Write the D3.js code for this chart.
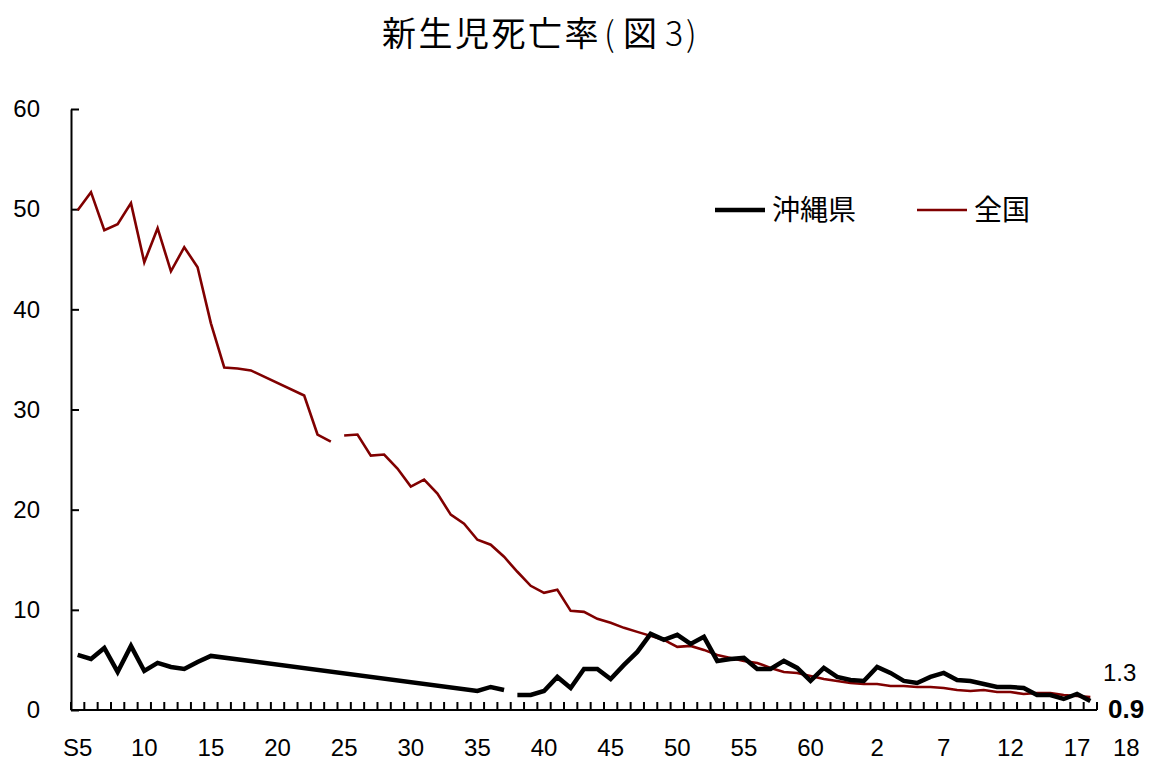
<!DOCTYPE html>
<html>
<head>
<meta charset="utf-8">
<script src="https://cdn.jsdelivr.net/npm/d3@7"></script>
<style>
  body { margin: 0; background: #fff; }
  svg { display: block; }
</style>
</head>
<body>
<div id="chart"></div>
<script>
// years S5 (1930) .. H18 (2006)
const years = d3.range(1930, 2007);

// 沖縄県 neonatal mortality, null = no data
const okinawa = [
  5.5, 5.1, 6.2, 3.8, 6.4, 3.9, 4.7, 4.3, 4.1, 4.8,
  5.4, null, null, null, null, null, null, null, null, null,
  null, null, null, null, null, null, null, null, null, null,
  1.9, 2.3, 2.0, 1.5, 1.5, 1.9, 3.3, 2.2, 4.1, 4.1,
  3.1, 4.5, 5.8, 7.6, 7.0, 7.5, 6.6, 7.3, 4.9, 5.1,
  5.2, 4.1, 4.1, 4.9, 4.2, 2.9, 4.2, 3.3, 3.0, 2.9,
  4.3, 3.7, 2.9, 2.7, 3.3, 3.7, 3.0, 2.9, 2.6, 2.3,
  2.3, 2.2, 1.5, 1.5, 1.1, 1.6, 0.9
];

// 全国
const zenkoku = [
  49.9, 51.7, 47.9, 48.5, 50.6, 44.7, 48.1, 43.8, 46.2, 44.2,
  38.6, 34.2, 34.1, 33.9, null, null, null, 31.4, 27.5, 26.8,
  27.4, 27.5, 25.4, 25.5, 24.1, 22.3, 23.0, 21.6, 19.5, 18.6,
  17.0, 16.5, 15.3, 13.8, 12.4, 11.7, 12.0, 9.9, 9.8, 9.1,
  8.7, 8.2, 7.8, 7.4, 7.0, 6.3, 6.4, 6.0, 5.5, 5.2,
  4.9, 4.7, 4.2, 3.8, 3.7, 3.4, 3.1, 2.9, 2.7, 2.6,
  2.6, 2.4, 2.4, 2.3, 2.3, 2.2, 2.0, 1.9, 2.0, 1.8,
  1.8, 1.6, 1.7, 1.7, 1.5, 1.4, 1.3
];

// the drawn line is broken between these segments
const okinawaSegments = [[1930, 1962], [1963, 2006]];
const zenkokuSegments = [[1930, 1949], [1950, 2006]];

const tickYears = [1930, 1935, 1940, 1945, 1950, 1955, 1960, 1965, 1970, 1975, 1980, 1985, 1990, 1995, 2000, 2005];
const tickLabels = ["S5", "10", "15", "20", "25", "30", "35", "40", "45", "50", "55", "60", "2", "7", "12", "17"];
const yTicks = [0, 10, 20, 30, 40, 50, 60];

const W = 1159, H = 765;
const plot = {left: 71, right: 1097, top: 109, bottom: 710};
const numFont = "'Liberation Sans', Arial, sans-serif";
const cjkFont = "'Noto Sans CJK JP', sans-serif";

const svg = d3.select("#chart")
    .append("svg")
    .attr("width", W)
    .attr("height", H);

const x = d3.scaleBand()
    .domain(years)
    .range([plot.left, plot.right])
    .paddingInner(0)
    .paddingOuter(0);
const cx = yr => x(yr) + x.bandwidth() / 2;

const y = d3.scaleLinear()
    .domain([0, 60])
    .range([plot.bottom, plot.top]);

// title, parens spaced out like the original
const title = svg.append("text")
    .attr("y", 46)
    .attr("font-family", cjkFont)
    .attr("font-size", 34)
    .attr("fill", "#000");
title.append("tspan").attr("x", 382).attr("letter-spacing", 2.5).text("新生児死亡率");
title.append("tspan").attr("x", 604).attr("font-weight", 300).text("(");
title.append("tspan").attr("x", 623).text("図");
title.append("tspan").attr("x", 665).attr("font-weight", 300).text("3");
title.append("tspan").attr("x", 686).attr("font-weight", 300).text(")");

// y axis
const yAxis = svg.append("g")
    .attr("transform", `translate(${plot.left},0)`)
    .call(d3.axisLeft(y).tickValues(yTicks).tickSizeInner(-8).tickSizeOuter(0).tickPadding(31));
yAxis.select(".domain").attr("stroke-width", 2);
yAxis.selectAll(".tick line").attr("stroke-width", 2);
yAxis.selectAll("text").attr("font-family", numFont).attr("font-size", 24).attr("fill", "#000");

// x axis line + ticks between categories
const xAxis = svg.append("g");
xAxis.append("line")
    .attr("x1", plot.left).attr("x2", plot.right)
    .attr("y1", plot.bottom).attr("y2", plot.bottom)
    .attr("stroke", "#000").attr("stroke-width", 2);
xAxis.selectAll(".xt")
    .data(years.concat([2007]))
    .join("line")
    .attr("class", "xt")
    .attr("x1", d => d === 2007 ? plot.right : x(d))
    .attr("x2", d => d === 2007 ? plot.right : x(d))
    .attr("y1", plot.bottom)
    .attr("y2", plot.bottom - 8)
    .attr("stroke", "#000").attr("stroke-width", 2);
xAxis.selectAll(".xl")
    .data(tickYears)
    .join("text")
    .attr("class", "xl")
    .attr("x", d => cx(d))
    .attr("y", 756)
    .attr("text-anchor", "middle")
    .attr("font-family", numFont)
    .attr("font-size", 24)
    .text((d, i) => tickLabels[i]);

// lines
const line = d3.line()
    .x(d => cx(d.year))
    .y(d => y(d.value));

function drawSeries(values, segments, color, width) {
    const pts = years.map((yr, i) => ({year: yr, value: values[i]}));
    segments.forEach(([a, b]) => {
        const seg = pts.filter(p => p.year >= a && p.year <= b && p.value != null);
        svg.append("path")
            .datum(seg)
            .attr("fill", "none")
            .attr("stroke", color)
            .attr("stroke-width", width)
            .attr("stroke-linejoin", "miter")
            .attr("d", line);
    });
}

drawSeries(zenkoku, zenkokuSegments, "#800000", 2.6);
drawSeries(okinawa, okinawaSegments, "#000", 4.5);

// end labels
const last = years.length - 1;
svg.append("text")
    .attr("x", 1103).attr("y", y(zenkoku[last]) - 16)
    .attr("font-family", numFont).attr("font-size", 24)
    .text(zenkoku[last].toFixed(1));
svg.append("text")
    .attr("x", 1108).attr("y", y(okinawa[last]) + 17)
    .attr("font-family", numFont).attr("font-size", 26).attr("font-weight", "bold")
    .text(okinawa[last].toFixed(1));
svg.append("text")
    .attr("x", 1113).attr("y", 756)
    .attr("font-family", numFont).attr("font-size", 24)
    .text("18");

// legend
const legend = [
    {name: "沖縄県", color: "#000", width: 4.5, x: 715, tx: 772},
    {name: "全国", color: "#800000", width: 2.6, x: 917, tx: 974}
];
const lg = svg.append("g");
lg.selectAll("line")
    .data(legend)
    .join("line")
    .attr("x1", d => d.x).attr("x2", d => d.x + 50)
    .attr("y1", 210).attr("y2", 210)
    .attr("stroke", d => d.color)
    .attr("stroke-width", d => d.width);
lg.selectAll("text")
    .data(legend)
    .join("text")
    .attr("x", d => d.tx).attr("y", 220)
    .attr("font-family", cjkFont)
    .attr("font-size", 28)
    .text(d => d.name);
</script>
</body>
</html>
